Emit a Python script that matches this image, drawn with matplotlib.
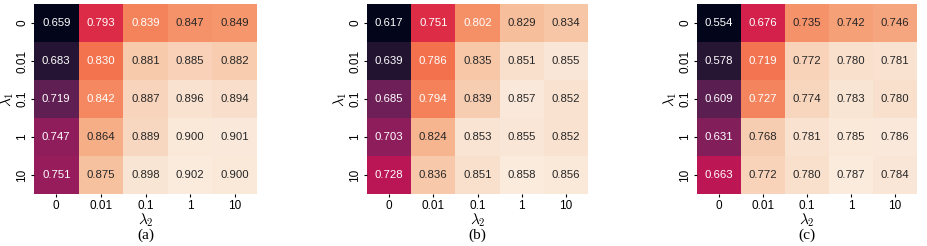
import numpy as np
import seaborn as sns
import matplotlib
matplotlib.use('Agg')
import matplotlib.pyplot as plt

plt.rcParams['font.family'] = ['Liberation Sans', 'DejaVu Sans']
plt.rcParams['mathtext.fontset'] = 'cm'

# tick labels for both lambda axes
lam1 = ['0', '0.01', '0.1', '1', '10']
lam2 = ['0', '0.01', '0.1', '1', '10']

# rows = lambda1, cols = lambda2
vals_a = [[0.659, 0.793, 0.839, 0.847, 0.849],
          [0.683, 0.830, 0.881, 0.885, 0.882],
          [0.719, 0.842, 0.887, 0.896, 0.894],
          [0.747, 0.864, 0.889, 0.900, 0.901],
          [0.751, 0.875, 0.898, 0.902, 0.900]]
vals_b = [[0.617, 0.751, 0.802, 0.829, 0.834],
          [0.639, 0.786, 0.835, 0.851, 0.855],
          [0.685, 0.794, 0.839, 0.857, 0.852],
          [0.703, 0.824, 0.853, 0.855, 0.852],
          [0.728, 0.836, 0.851, 0.858, 0.856]]
vals_c = [[0.554, 0.676, 0.735, 0.742, 0.746],
          [0.578, 0.719, 0.772, 0.780, 0.781],
          [0.609, 0.727, 0.774, 0.783, 0.780],
          [0.631, 0.768, 0.781, 0.785, 0.786],
          [0.663, 0.772, 0.780, 0.787, 0.784]]
captions = ['(a)', '(b)', '(c)']

fig = plt.figure(figsize=(9.27, 2.46), dpi=100)
lefts = [34/927, 367/927, 697/927]
widths = [223/927, 221/927, 220/927]

for i, data in enumerate([vals_a, vals_b, vals_c]):
    ax = fig.add_axes([lefts[i], 52/246, widths[i], 190/246])
    sns.heatmap(np.array(data), ax=ax, cmap='rocket', annot=True, fmt='.3f',
                cbar=False, xticklabels=lam2, yticklabels=lam1,
                annot_kws={'fontsize': 8.2})
    ax.tick_params(labelsize=8.5, length=2.5, pad=1.5)
    ax.set_yticklabels(lam1, rotation=90, va='center')
    ax.set_xlabel(r'$\lambda_2$', fontsize=11, labelpad=0)
    ax.set_ylabel(r'$\lambda_1$', fontsize=11, labelpad=0)
    ax.text(0.5, -0.215, captions[i], transform=ax.transAxes, ha='center', va='center',
            fontsize=11, family='Liberation Serif')

plt.savefig('out.png', dpi=100)
